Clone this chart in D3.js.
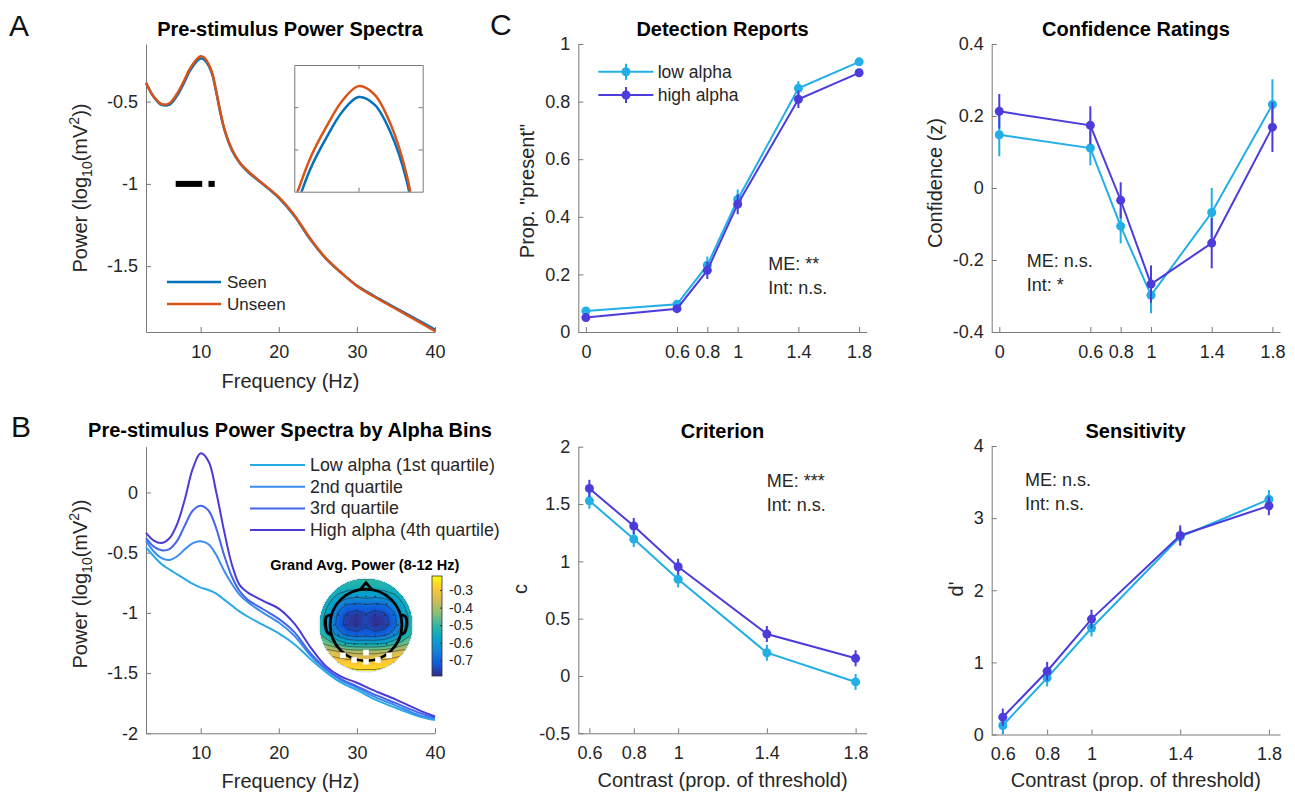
<!DOCTYPE html>
<html>
<head>
<meta charset="utf-8">
<script src="https://cdn.jsdelivr.net/npm/d3@7"></script>
<style>
  body { margin: 0; background: #fff; }
  svg text { font-family: "Liberation Sans", Arial, Helvetica, sans-serif; }
</style>
</head>
<body>
<svg id="fig" width="1295" height="794"></svg>
<script>
// ---- Panel A: pre-stimulus spectra, seen vs unseen
const freqA = [3, 4, 5, 6, 7, 8, 8.5, 9, 9.5, 10, 10.5, 11, 11.5, 12, 13, 14, 15, 16, 18, 20, 22, 24, 26, 28, 30, 32, 35, 38, 40];
const seenPower = [-0.385, -0.472, -0.52, -0.518, -0.462, -0.373, -0.323, -0.286, -0.255, -0.238, -0.247, -0.28, -0.337, -0.445, -0.665, -0.795, -0.873, -0.925, -1.003, -1.085, -1.195, -1.335, -1.452, -1.54, -1.618, -1.676, -1.755, -1.832, -1.885];
const unseenPower = [-0.385, -0.47, -0.515, -0.51, -0.45, -0.36, -0.31, -0.273, -0.242, -0.225, -0.235, -0.27, -0.33, -0.44, -0.66, -0.79, -0.87, -0.92, -1.0, -1.08, -1.19, -1.33, -1.45, -1.54, -1.62, -1.68, -1.76, -1.84, -1.895];
const sigRanges = [[6.8, 10.2], [11, 11.8]];
const sigLevel = -1;

// ---- Panel B: spectra by alpha quartile
const freqB = [3, 4, 5, 6, 7, 8, 9, 10, 11, 12, 13, 14, 15, 16, 18, 20, 22, 24, 26, 28, 30, 32, 35, 38, 40];
const q1Power = [-0.455, -0.53, -0.595, -0.64, -0.68, -0.72, -0.76, -0.79, -0.81, -0.84, -0.89, -0.94, -0.99, -1.03, -1.1, -1.17, -1.26, -1.38, -1.49, -1.58, -1.64, -1.71, -1.79, -1.86, -1.89];
const q2Power = [-0.40, -0.49, -0.545, -0.56, -0.53, -0.47, -0.42, -0.405, -0.43, -0.52, -0.65, -0.76, -0.85, -0.91, -1.0, -1.08, -1.19, -1.35, -1.47, -1.56, -1.62, -1.69, -1.77, -1.85, -1.88];
const q3Power = [-0.38, -0.45, -0.48, -0.47, -0.40, -0.27, -0.15, -0.11, -0.15, -0.30, -0.52, -0.70, -0.82, -0.89, -0.97, -1.05, -1.16, -1.33, -1.46, -1.55, -1.61, -1.67, -1.75, -1.83, -1.87];
const q4Power = [-0.336, -0.40, -0.42, -0.38, -0.26, -0.05, 0.2, 0.325, 0.26, 0.0, -0.32, -0.6, -0.77, -0.83, -0.9, -0.965, -1.09, -1.28, -1.44, -1.53, -1.58, -1.64, -1.72, -1.81, -1.86];
const quartileNames = ["Low alpha (1st quartile)", "2nd quartile", "3rd quartile", "High alpha (4th quartile)"];

// topography of grand average 8-12 Hz power (rows front -> back, cols left -> right)
const topoGrid = [
  [-0.48, -0.49, -0.50, -0.50, -0.50, -0.50, -0.50, -0.50, -0.50, -0.49, -0.48],
  [-0.50, -0.51, -0.53, -0.54, -0.55, -0.54, -0.55, -0.54, -0.53, -0.51, -0.50],
  [-0.51, -0.54, -0.58, -0.61, -0.62, -0.61, -0.62, -0.61, -0.58, -0.54, -0.51],
  [-0.52, -0.57, -0.65, -0.70, -0.71, -0.70, -0.71, -0.70, -0.65, -0.57, -0.52],
  [-0.53, -0.60, -0.70, -0.76, -0.78, -0.75, -0.78, -0.76, -0.70, -0.60, -0.53],
  [-0.53, -0.61, -0.71, -0.77, -0.785, -0.75, -0.785, -0.77, -0.71, -0.61, -0.53],
  [-0.50, -0.57, -0.65, -0.70, -0.72, -0.71, -0.72, -0.70, -0.65, -0.57, -0.50],
  [-0.43, -0.47, -0.52, -0.56, -0.57, -0.57, -0.57, -0.56, -0.52, -0.47, -0.43],
  [-0.33, -0.34, -0.36, -0.38, -0.39, -0.39, -0.39, -0.38, -0.36, -0.34, -0.33],
  [-0.27, -0.28, -0.29, -0.30, -0.31, -0.31, -0.31, -0.30, -0.29, -0.28, -0.27],
  [-0.23, -0.23, -0.24, -0.24, -0.25, -0.25, -0.25, -0.24, -0.24, -0.23, -0.23]
];
const topoRange = [-0.79, -0.22];
const colorbarTicks = [-0.7, -0.6, -0.5, -0.4, -0.3];
const electrodes = [
  [-0.2, -0.62], [0, -0.62], [0.2, -0.62],
  [-0.45, -0.45], [-0.25, -0.45], [0, -0.45], [0.25, -0.45], [0.45, -0.45],
  [-0.6, -0.22], [-0.4, -0.22], [-0.2, -0.22], [0, -0.22], [0.2, -0.22], [0.4, -0.22], [0.6, -0.22],
  [-0.7, 0], [-0.45, 0], [-0.22, 0], [0, 0], [0.22, 0], [0.45, 0], [0.7, 0],
  [-0.6, 0.22], [-0.4, 0.22], [-0.2, 0.22], [0, 0.22], [0.2, 0.22], [0.4, 0.22], [0.6, 0.22],
  [-0.45, 0.42], [-0.25, 0.42], [0, 0.42], [0.25, 0.42], [0.45, 0.42]
];
const roiElectrodes = [[-0.5, 0.66], [-0.26, 0.76], [0, 0.8], [0, 0.6], [0.26, 0.76], [0.5, 0.66]];

// ---- Panel C: behaviour by alpha (low vs high)
const contrastAll = [0, 0.6, 0.8, 1, 1.4, 1.8];
const contrastSdt = [0.6, 0.8, 1, 1.4, 1.8];
const detectLow = [0.073, 0.096, 0.232, 0.46, 0.846, 0.938];
const detectLowErr = [0.01, 0.012, 0.03, 0.035, 0.025, 0.012];
const detectHigh = [0.05, 0.081, 0.214, 0.444, 0.808, 0.9];
const detectHighErr = [0.01, 0.01, 0.03, 0.035, 0.03, 0.012];
const confLow = [0.148, 0.111, -0.106, -0.298, -0.068, 0.232];
const confLowErr = [0.06, 0.048, 0.048, 0.05, 0.068, 0.07];
const confHigh = [0.213, 0.174, -0.034, -0.267, -0.153, 0.169];
const confHighErr = [0.048, 0.053, 0.05, 0.052, 0.07, 0.069];
const critLow = [1.528, 1.194, 0.843, 0.203, -0.052];
const critLowErr = [0.07, 0.07, 0.07, 0.07, 0.07];
const critHigh = [1.636, 1.308, 0.953, 0.366, 0.154];
const critHighErr = [0.075, 0.07, 0.07, 0.07, 0.07];
const sensLow = [0.125, 0.785, 1.477, 2.74, 3.26];
const sensLowErr = [0.12, 0.12, 0.12, 0.12, 0.13];
const sensHigh = [0.24, 0.877, 1.6, 2.76, 3.17];
const sensHighErr = [0.12, 0.13, 0.13, 0.14, 0.13];
const groupNames = ["low alpha", "high alpha"];

// ---- styles
const fontFam = "'Liberation Sans', Arial, Helvetica, sans-serif";
const axisColor = "#7a7a7a";
const textColor = "#262626";
const seenColor = "#0072BD";
const unseenColor = "#D95319";
const quartileColors = ["#28A9E8", "#3A8DEF", "#4466EC", "#4A3BD8"];
const lowColor = "#22AEE6";
const highColor = "#4B3CDB";
const parulaStops = ["#352A87", "#0F5CDD", "#1481D6", "#06A4CA", "#2EB7A4", "#87BF77", "#D1BB59", "#FEC832", "#F9FB0E"];

const svg = d3.select("#fig");
const fmt = d => String(+(+d).toFixed(2));

function makeAxes(o) {
  const x = d3.scaleLinear().domain(o.xDomain).range([o.left, o.right]);
  const y = d3.scaleLinear().domain(o.yDomain).range([o.bottom, o.top]);
  const g = svg.append("g");
  g.append("g")
    .attr("transform", "translate(0," + o.bottom + ")")
    .call(d3.axisBottom(x).tickValues(o.xTicks).tickFormat(fmt)
      .tickSizeInner(-5).tickSizeOuter(0).tickPadding(13));
  g.append("g")
    .attr("transform", "translate(" + o.left + ",0)")
    .call(d3.axisLeft(y).tickValues(o.yTicks).tickFormat(fmt)
      .tickSizeInner(-5).tickSizeOuter(0).tickPadding(8));
  g.selectAll("g").attr("font-family", fontFam).attr("font-size", 18);
  g.selectAll(".domain, .tick line").attr("stroke", axisColor);
  g.selectAll(".tick text").attr("fill", textColor);
  return { x, y, g };
}

function title(x, y, txt, size) {
  svg.append("text").attr("x", x).attr("y", y)
    .attr("text-anchor", "middle").attr("font-weight", "bold")
    .attr("font-size", size || 20).attr("fill", "#000").text(txt);
}

function xLabel(x, y, txt) {
  svg.append("text").attr("x", x).attr("y", y)
    .attr("text-anchor", "middle").attr("font-size", 20)
    .attr("fill", textColor).text(txt);
}

function yLabel(x, y, txt) {
  return svg.append("text")
    .attr("transform", "translate(" + x + "," + y + ") rotate(-90)")
    .attr("text-anchor", "middle").attr("font-size", 20)
    .attr("fill", textColor).text(txt);
}

function powerLabel(x, y) {
  const t = yLabel(x, y, "");
  t.append("tspan").text("Power (log");
  t.append("tspan").attr("dy", 5).attr("font-size", 14).text("10");
  t.append("tspan").attr("dy", -5).text("(mV");
  t.append("tspan").attr("dy", -8).attr("font-size", 14).text("2");
  t.append("tspan").attr("dy", 8).text("))");
}

function panelLetter(x, y, txt) {
  svg.append("text").attr("x", x).attr("y", y)
    .attr("font-size", 30).attr("fill", "#111").text(txt);
}

function note(x, y, lines) {
  lines.forEach((l, i) => {
    svg.append("text").attr("x", x).attr("y", y + i * 24)
      .attr("font-size", 18).attr("fill", textColor).text(l);
  });
}

const smooth = d3.curveCatmullRom.alpha(0.5);

function spectrum(g, ax, fs, ps, color, width) {
  g.append("path")
    .datum(fs.map((f, i) => [f, ps[i]]))
    .attr("fill", "none").attr("stroke", color).attr("stroke-width", width)
    .attr("stroke-linejoin", "round")
    .attr("d", d3.line().curve(smooth).x(d => ax.x(d[0])).y(d => ax.y(d[1])));
}

function errSeries(ax, xs, ys, errs, color) {
  const g = svg.append("g");
  g.append("path")
    .datum(xs.map((v, i) => [v, ys[i]]))
    .attr("fill", "none").attr("stroke", color).attr("stroke-width", 2)
    .attr("d", d3.line().x(d => ax.x(d[0])).y(d => ax.y(d[1])));
  g.selectAll("line").data(xs).join("line")
    .attr("x1", d => ax.x(d)).attr("x2", d => ax.x(d))
    .attr("y1", (d, i) => ax.y(ys[i] - errs[i]))
    .attr("y2", (d, i) => ax.y(ys[i] + errs[i]))
    .attr("stroke", color).attr("stroke-width", 2);
  g.selectAll("circle").data(xs).join("circle")
    .attr("cx", d => ax.x(d)).attr("cy", (d, i) => ax.y(ys[i]))
    .attr("r", 4.5).attr("fill", color);
}

// ================= Panel A =================
panelLetter(9, 36, "A");
title(290, 36, "Pre-stimulus Power Spectra");
const axA = makeAxes({
  left: 146, right: 435, top: 44, bottom: 332,
  xDomain: [3, 40], yDomain: [-1.9, -0.15],
  xTicks: [10, 20, 30, 40], yTicks: [-1.5, -1, -0.5]
});
const gA = svg.append("g");
spectrum(gA, axA, freqA, seenPower, seenColor, 2.5);
spectrum(gA, axA, freqA, unseenPower, unseenColor, 2.5);
gA.selectAll("rect.sig").data(sigRanges).join("rect")
  .attr("x", d => axA.x(d[0])).attr("width", d => axA.x(d[1]) - axA.x(d[0]))
  .attr("y", axA.y(sigLevel) - 3).attr("height", 6).attr("fill", "#000");
xLabel(290.5, 388, "Frequency (Hz)");
powerLabel(87, 188);

// legend A
[["Seen", seenColor], ["Unseen", unseenColor]].forEach((d, i) => {
  const y = 282 + i * 22;
  svg.append("line").attr("x1", 167).attr("x2", 221).attr("y1", y).attr("y2", y)
    .attr("stroke", d[1]).attr("stroke-width", 2.5);
  svg.append("text").attr("x", 227).attr("y", y + 6).attr("font-size", 17)
    .attr("fill", textColor).text(d[0]);
});

// inset (zoom on the alpha peak)
const inset = { left: 294.3, right: 422.7, top: 65, bottom: 191.7 };
const ix = d3.scaleLinear().domain([8, 12]).range([inset.left, inset.right]);
const iy = d3.scaleLinear().domain([-0.35, -0.2]).range([inset.bottom, inset.top]);
const gIn = svg.append("g");
gIn.append("rect").attr("x", inset.left).attr("y", inset.top)
  .attr("width", inset.right - inset.left).attr("height", inset.bottom - inset.top)
  .attr("fill", "#fff");
svg.append("clipPath").attr("id", "insetClip").append("rect")
  .attr("x", inset.left).attr("y", inset.top)
  .attr("width", inset.right - inset.left).attr("height", inset.bottom - inset.top);
const gInLines = gIn.append("g").attr("clip-path", "url(#insetClip)");
spectrum(gInLines, { x: ix, y: iy }, freqA, seenPower, seenColor, 2.5);
spectrum(gInLines, { x: ix, y: iy }, freqA, unseenPower, unseenColor, 2.5);
[
  [d3.axisBottom(ix).tickValues([10]), "translate(0," + inset.bottom + ")"],
  [d3.axisTop(ix).tickValues([10]), "translate(0," + inset.top + ")"],
  [d3.axisLeft(iy).tickValues([-0.3, -0.25]), "translate(" + inset.left + ",0)"],
  [d3.axisRight(iy).tickValues([-0.3, -0.25]), "translate(" + inset.right + ",0)"]
].forEach(([ax, tr]) => {
  gIn.append("g").attr("transform", tr)
    .call(ax.tickFormat("").tickSizeInner(-4).tickSizeOuter(0));
});
gIn.selectAll(".domain, .tick line").attr("stroke", axisColor);

// ================= Panel B =================
panelLetter(11, 437, "B");
title(290, 437, "Pre-stimulus Power Spectra by Alpha Bins");
const axB = makeAxes({
  left: 146, right: 435, top: 446.7, bottom: 733.3,
  xDomain: [3, 40], yDomain: [-2, 0.38],
  xTicks: [10, 20, 30, 40], yTicks: [-2, -1.5, -1, -0.5, 0]
});
const gB = svg.append("g");
[q1Power, q2Power, q3Power, q4Power].forEach((p, i) => {
  spectrum(gB, axB, freqB, p, quartileColors[i], 2);
});
xLabel(290.5, 788, "Frequency (Hz)");
powerLabel(87, 584);

quartileNames.forEach((n, i) => {
  const y = 465 + i * 21.7;
  svg.append("line").attr("x1", 250).attr("x2", 305).attr("y1", y).attr("y2", y)
    .attr("stroke", quartileColors[i]).attr("stroke-width", 2);
  svg.append("text").attr("x", 310).attr("y", y + 6).attr("font-size", 17.8)
    .attr("fill", textColor).text(n);
});

// topoplot
const topoCx = 366, topoCy = 625, topoR = 46;
const parula = d3.scaleLinear()
  .domain(parulaStops.map((c, i) => topoRange[0] + i * (topoRange[1] - topoRange[0]) / (parulaStops.length - 1)))
  .range(parulaStops).clamp(true);
title(364.7, 570, "Grand Avg. Power (8-12 Hz)", 14.5);

const nG = topoGrid.length;
const gridProj = d3.geoIdentity()
  .scale(2 * topoR / (nG - 1))
  .translate([topoCx - topoR * (1 + 1 / (nG - 1)), topoCy - topoR * (1 + 1 / (nG - 1))]);
const gridPath = d3.geoPath(gridProj);
const flat = topoGrid.flat();
const fillStep = 0.01;
const fillLevels = d3.range(-0.85, -0.2, fillStep);
const lineLevels = [-0.74, -0.68, -0.62, -0.56, -0.5, -0.44, -0.38, -0.32, -0.26];

svg.append("clipPath").attr("id", "topoClip").append("circle")
  .attr("cx", topoCx).attr("cy", topoCy).attr("r", topoR);
svg.append("circle").attr("cx", topoCx).attr("cy", topoCy).attr("r", topoR + 1.5)
  .attr("fill", "#dcebf5");
const gTopo = svg.append("g").attr("clip-path", "url(#topoClip)");
gTopo.selectAll("path.fill")
  .data(d3.contours().size([nG, nG]).thresholds(fillLevels)(flat))
  .join("path")
  .attr("d", gridPath)
  .attr("fill", d => parula(d.value + fillStep / 2))
  .attr("stroke", d => parula(d.value + fillStep / 2)).attr("stroke-width", 0.5);
gTopo.selectAll("path.iso")
  .data(d3.contours().size([nG, nG]).thresholds(lineLevels)(flat))
  .join("path")
  .attr("d", gridPath)
  .attr("fill", "none").attr("stroke", "#222").attr("stroke-width", 0.7).attr("stroke-opacity", 0.75);

const headR = 0.78 * topoR;
const gHead = svg.append("g").attr("fill", "none").attr("stroke", "#000").attr("stroke-width", 2.8);
gHead.append("circle").attr("cx", topoCx).attr("cy", topoCy).attr("r", headR);
gHead.append("path").attr("d", d3.line()([
  [topoCx - 0.13 * topoR, topoCy - 0.765 * topoR],
  [topoCx, topoCy - 0.92 * topoR],
  [topoCx + 0.13 * topoR, topoCy - 0.765 * topoR]
]));
[-1, 1].forEach(s => {
  gHead.append("path").attr("d", d3.line().curve(d3.curveCatmullRom)([
    [topoCx + s * 0.77 * topoR, topoCy - 0.22 * topoR],
    [topoCx + s * 0.86 * topoR, topoCy - 0.18 * topoR],
    [topoCx + s * 0.88 * topoR, topoCy],
    [topoCx + s * 0.84 * topoR, topoCy + 0.16 * topoR],
    [topoCx + s * 0.77 * topoR, topoCy + 0.2 * topoR]
  ])).attr("stroke-width", 3);
});
svg.append("g").selectAll("circle").data(electrodes).join("circle")
  .attr("cx", d => topoCx + d[0] * topoR).attr("cy", d => topoCy + d[1] * topoR)
  .attr("r", 0.7).attr("fill", "#222");
svg.append("g").selectAll("rect").data(roiElectrodes).join("rect")
  .attr("x", d => topoCx + d[0] * topoR - 2.8).attr("y", d => topoCy + d[1] * topoR - 2.8)
  .attr("width", 5.6).attr("height", 5.6).attr("fill", "#fff");

// colorbar
const cb = { x: 432, y: 576, w: 10, h: 100 };
const cbScale = d3.scaleLinear().domain(topoRange).range([cb.y + cb.h, cb.y]);
const grad = svg.append("defs").append("linearGradient").attr("id", "parulaGrad")
  .attr("x1", 0).attr("y1", 1).attr("x2", 0).attr("y2", 0);
parulaStops.forEach((c, i) => {
  grad.append("stop").attr("offset", i / (parulaStops.length - 1)).attr("stop-color", c);
});
svg.append("rect").attr("x", cb.x).attr("y", cb.y).attr("width", cb.w).attr("height", cb.h)
  .attr("fill", "url(#parulaGrad)").attr("stroke", "#333").attr("stroke-width", 0.8);
const gCb = svg.append("g").attr("transform", "translate(" + (cb.x + cb.w) + ",0)")
  .call(d3.axisRight(cbScale).tickValues(colorbarTicks).tickFormat(fmt)
    .tickSizeInner(-2).tickSizeOuter(0).tickPadding(7));
gCb.attr("font-family", fontFam).attr("font-size", 14);
gCb.select(".domain").remove();
gCb.selectAll(".tick line").attr("stroke", "#333");
gCb.selectAll(".tick text").attr("fill", textColor);

// ================= Panel C =================
panelLetter(490, 35, "C");

// Detection reports
title(722.5, 36, "Detection Reports");
const axDet = makeAxes({
  left: 578.3, right: 866.7, top: 44, bottom: 332,
  xDomain: [-0.05, 1.85], yDomain: [0, 1],
  xTicks: contrastAll, yTicks: [0, 0.2, 0.4, 0.6, 0.8, 1]
});
errSeries(axDet, contrastAll, detectLow, detectLowErr, lowColor);
errSeries(axDet, contrastAll, detectHigh, detectHighErr, highColor);
yLabel(534, 191, "Prop. \"present\"");
note(768.3, 270, ["ME: **", "Int: n.s."]);

[lowColor, highColor].forEach((c, i) => {
  const y = 71.7 + i * 23.3;
  const g = svg.append("g");
  g.append("line").attr("x1", 598.3).attr("x2", 653.3).attr("y1", y).attr("y2", y)
    .attr("stroke", c).attr("stroke-width", 2);
  g.append("line").attr("x1", 626).attr("x2", 626).attr("y1", y - 8).attr("y2", y + 8)
    .attr("stroke", c).attr("stroke-width", 2);
  g.append("circle").attr("cx", 626).attr("cy", y).attr("r", 4.5).attr("fill", c);
  g.append("text").attr("x", 657.7).attr("y", y + 6).attr("font-size", 17.5)
    .attr("fill", textColor).text(groupNames[i]);
});

// Confidence ratings
title(1136, 36, "Confidence Ratings");
const axConf = makeAxes({
  left: 991.7, right: 1280, top: 44, bottom: 332,
  xDomain: [-0.05, 1.85], yDomain: [-0.4, 0.4],
  xTicks: contrastAll, yTicks: [-0.4, -0.2, 0, 0.2, 0.4]
});
errSeries(axConf, contrastAll, confLow, confLowErr, lowColor);
errSeries(axConf, contrastAll, confHigh, confHighErr, highColor);
yLabel(942, 183, "Confidence (z)");
note(1026.7, 267, ["ME: n.s.", "Int: *"]);

// Criterion
title(722.5, 438, "Criterion");
const axCrit = makeAxes({
  left: 578.3, right: 866.7, top: 446.7, bottom: 733.3,
  xDomain: [0.55, 1.85], yDomain: [-0.5, 2],
  xTicks: contrastSdt, yTicks: [-0.5, 0, 0.5, 1, 1.5, 2]
});
errSeries(axCrit, contrastSdt, critLow, critLowErr, lowColor);
errSeries(axCrit, contrastSdt, critHigh, critHighErr, highColor);
yLabel(527, 589, "c");
xLabel(722.5, 787, "Contrast (prop. of threshold)");
note(766.7, 487, ["ME: ***", "Int: n.s."]);

// Sensitivity
title(1135.5, 438, "Sensitivity");
const axSens = makeAxes({
  left: 991.7, right: 1280, top: 446, bottom: 734.5,
  xDomain: [0.55, 1.85], yDomain: [0, 4],
  xTicks: contrastSdt, yTicks: [0, 1, 2, 3, 4]
});
errSeries(axSens, contrastSdt, sensLow, sensLowErr, lowColor);
errSeries(axSens, contrastSdt, sensHigh, sensHighErr, highColor);
yLabel(963, 589, "d'");
xLabel(1135.8, 787, "Contrast (prop. of threshold)");
note(1025, 486, ["ME: n.s.", "Int: n.s."]);
</script>
</body>
</html>
